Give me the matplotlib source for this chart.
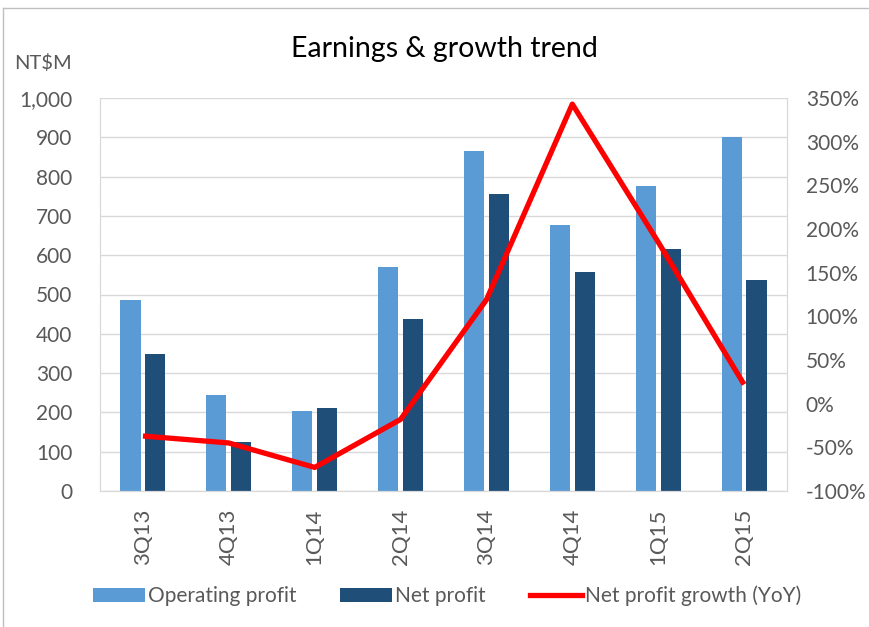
import matplotlib
matplotlib.use("Agg")
import matplotlib.pyplot as plt
import numpy as np
from matplotlib.ticker import FuncFormatter, MultipleLocator
from matplotlib.patches import Patch
from matplotlib.lines import Line2D

categories = ["3Q13", "4Q13", "1Q14", "2Q14", "3Q14", "4Q14", "1Q15", "2Q15"]
operating_profit = [487, 244, 204, 570, 866, 678, 775, 902]
net_profit = [348, 124, 211, 438, 755, 558, 616, 537]
net_growth = [-37, -45, -73, -18, 119, 343, 185, 22]

plt.rcParams['font.family'] = ['Lato', 'DejaVu Sans']
GRAY = "#595959"
GRID = "#D9D9D9"
LIGHT = "#5B9BD5"
DARK = "#1F4E79"

fig = plt.figure(figsize=(8.7, 6.27), dpi=100)
ax = fig.add_axes([100/870, 1-491/627, 687/870, 393/627])
ax2 = ax.twinx()

x = np.arange(len(categories))
w = 0.235
ax.bar(x - 0.145, operating_profit, width=w, color=LIGHT, zorder=2)
ax.bar(x + 0.145, net_profit, width=w, color=DARK, zorder=2)
ax.set_xlim(-0.5, len(categories) - 0.5)
ax.set_ylim(0, 1000)
ax.yaxis.set_major_locator(MultipleLocator(100))
ax.yaxis.set_major_formatter(FuncFormatter(lambda v, p: f"{int(v):,}"))
ax.grid(axis='y', color=GRID, linewidth=1, zorder=0)
ax.set_axisbelow(True)
ax.set_xticks(x)
ax.set_xticklabels(categories, rotation=90, color=GRAY, fontsize=16)
ax.tick_params(axis='x', length=0, pad=13)
ax.tick_params(axis='y', length=0, pad=20, labelsize=15, labelcolor=GRAY)

ax2.plot(x, net_growth, color="#FF0000", linewidth=3.8, solid_capstyle='butt', zorder=3)
ax2.set_ylim(-100, 350)
ax2.yaxis.set_major_locator(MultipleLocator(50))
ax2.yaxis.set_major_formatter(FuncFormatter(lambda v, p: f"{int(round(v))}%"))
ax2.tick_params(axis='y', length=0, pad=13.5, labelsize=15, labelcolor=GRAY)

for a in (ax, ax2):
    for s in a.spines.values():
        s.set_color(GRID)
    a.spines['top'].set_visible(False)

fig.text(444/870, 1-49/627, "Earnings & growth trend", ha='center', va='center', fontsize=20.5, color='black')
fig.text(72/870, 1-63/627, "NT$M", ha='right', va='center', fontsize=14.5, color=GRAY)

handles = [Patch(facecolor=LIGHT), Patch(facecolor=DARK),
           Line2D([0], [0], color="#FF0000", linewidth=3.8)]
labels = ["Operating profit", "Net profit", "Net profit growth (YoY)"]
fig.legend(handles, labels, loc='center', bbox_to_anchor=(447/870, 1-596/627), ncol=3,
           frameon=False, fontsize=15, labelcolor=GRAY, handlelength=2.5, handleheight=0.67,
           handletextpad=0.15, columnspacing=2.1)

# chart border (top and left visible)
fig.add_artist(Line2D([3/870, 3/870], [0, 1-8/627], transform=fig.transFigure, color="#BFBFBF", linewidth=1))
fig.add_artist(Line2D([3/870, 1], [1-8/627, 1-8/627], transform=fig.transFigure, color="#BFBFBF", linewidth=1))

fig.savefig("out.png", dpi=100)
